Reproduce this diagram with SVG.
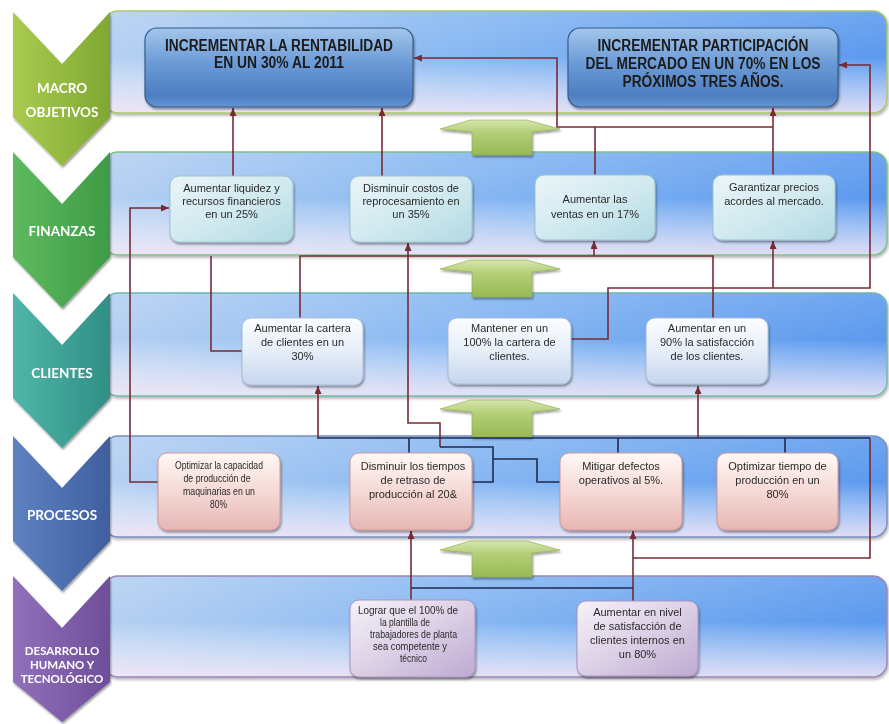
<svg xmlns="http://www.w3.org/2000/svg" width="889" height="724" viewBox="0 0 889 724">
<style>
.lab{font-family:Lato,"Open Sans","Liberation Sans",sans-serif;font-weight:bold;font-size:13.5px;fill:#fff;text-anchor:middle}
.lab2{font-family:Lato,"Open Sans","Liberation Sans",sans-serif;font-weight:bold;font-size:11.5px;fill:#fff;text-anchor:middle}
.mt{font-family:"Liberation Sans",Arial,sans-serif;font-weight:bold;font-size:16px;fill:#1b1b1b;text-anchor:middle}
.t{font-family:"Liberation Sans",Arial,sans-serif;font-size:11px;fill:#2a2a2a;text-anchor:middle}
.tn{font-family:"Liberation Sans",Arial,sans-serif;font-size:11px;fill:#2a2a2a;text-anchor:middle}
.c{fill:none;stroke:#7A2A33;stroke-width:1.6}
.n{fill:none;stroke:#1E2B4F;stroke-width:1.6}
.band{fill:url(#bandH)}
.bandov{fill:url(#bandV)}
.fin{fill:url(#finG);stroke:#9CC4CF;stroke-width:1}
.cli{fill:url(#cliG);stroke:#A8BCD8;stroke-width:1}
.pro{fill:url(#proG);stroke:#D09A98;stroke-width:1}
.des{fill:url(#desG);stroke:#A995C0;stroke-width:1}
.mac{fill:url(#macG);stroke:#385D8A;stroke-width:1.2}
.garr{fill:url(#arrG);stroke:#8CAA4A;stroke-width:0.6}
</style>
<defs>
<linearGradient id="bandH" x1="0" y1="0" x2="1" y2="0">
<stop offset="0" stop-color="#B5D0F2"/><stop offset="0.45" stop-color="#88B8F2"/><stop offset="1" stop-color="#5B99EE"/>
</linearGradient>
<linearGradient id="bandV" x1="0" y1="0" x2="0" y2="1">
<stop offset="0" stop-color="#ffffff" stop-opacity="0.12"/><stop offset="0.45" stop-color="#ffffff" stop-opacity="0"/><stop offset="1" stop-color="#F8E8F5" stop-opacity="0.85"/>
</linearGradient>
<linearGradient id="macG" x1="0" y1="0" x2="0" y2="1">
<stop offset="0" stop-color="#A3C6EC"/><stop offset="0.45" stop-color="#6B9AD6"/><stop offset="0.85" stop-color="#4D7EC2"/><stop offset="1" stop-color="#6394D2"/>
</linearGradient>
<linearGradient id="finG" x1="0" y1="0" x2="1" y2="1">
<stop offset="0" stop-color="#EAF5F8"/><stop offset="0.5" stop-color="#D2EAF0"/><stop offset="1" stop-color="#B2DAE3"/>
</linearGradient>
<linearGradient id="cliG" x1="0" y1="0" x2="0" y2="1">
<stop offset="0" stop-color="#FCFDFF"/><stop offset="0.5" stop-color="#E6EEF8"/><stop offset="1" stop-color="#C6D6EE"/>
</linearGradient>
<linearGradient id="proG" x1="0" y1="0" x2="0" y2="1">
<stop offset="0" stop-color="#FFF8F5"/><stop offset="0.5" stop-color="#F5D9D6"/><stop offset="1" stop-color="#E6B6B3"/>
</linearGradient>
<linearGradient id="desG" x1="0" y1="0" x2="1" y2="1">
<stop offset="0" stop-color="#F6F2F8"/><stop offset="0.5" stop-color="#DCD0E6"/><stop offset="1" stop-color="#BDAAD2"/>
</linearGradient>
<linearGradient id="arrG" x1="0" y1="0" x2="0" y2="1">
<stop offset="0" stop-color="#D5E6AE"/><stop offset="0.35" stop-color="#B4CF78"/><stop offset="1" stop-color="#98B955"/>
</linearGradient>
<linearGradient id="ch1" x1="0" y1="0" x2="1" y2="0"><stop offset="0" stop-color="#A9CB50"/><stop offset="1" stop-color="#7FA832"/></linearGradient>
<linearGradient id="ch2" x1="0" y1="0" x2="1" y2="0"><stop offset="0" stop-color="#5EBA5E"/><stop offset="1" stop-color="#3E9B47"/></linearGradient>
<linearGradient id="ch3" x1="0" y1="0" x2="1" y2="0"><stop offset="0" stop-color="#4FB6A8"/><stop offset="1" stop-color="#2F8F85"/></linearGradient>
<linearGradient id="ch4" x1="0" y1="0" x2="1" y2="0"><stop offset="0" stop-color="#5E82C2"/><stop offset="1" stop-color="#3F5F9E"/></linearGradient>
<linearGradient id="ch5" x1="0" y1="0" x2="1" y2="0"><stop offset="0" stop-color="#9170BB"/><stop offset="1" stop-color="#6E4E9A"/></linearGradient>
<filter id="sh" x="-10%" y="-10%" width="130%" height="140%"><feDropShadow dx="1" dy="2" stdDeviation="1.2" flood-color="#000" flood-opacity="0.4"/></filter>
<filter id="bsh" x="-5%" y="-10%" width="110%" height="130%"><feDropShadow dx="1" dy="2" stdDeviation="1.5" flood-color="#000" flood-opacity="0.3"/></filter>
<marker id="ah" viewBox="0 0 8 7" refX="8" refY="3.5" markerWidth="8" markerHeight="7" markerUnits="userSpaceOnUse" orient="auto"><path d="M0,0 L8,3.5 L0,7 z" fill="#7A2A33"/></marker>
</defs>

<g id="bands">
<g filter="url(#bsh)"><rect class="band" x="104" y="11" width="783" height="102" rx="14"/><rect class="bandov" x="104" y="11" width="783" height="102" rx="14" stroke="#A9C86A" stroke-width="1.5"/></g>
<g filter="url(#bsh)"><rect class="band" x="104" y="152" width="783" height="103" rx="14"/><rect class="bandov" x="104" y="152" width="783" height="103" rx="14" stroke="#7FC08A" stroke-width="1.5"/></g>
<g filter="url(#bsh)"><rect class="band" x="104" y="293" width="783" height="103" rx="14"/><rect class="bandov" x="104" y="293" width="783" height="103" rx="14" stroke="#6FB8AE" stroke-width="1.5"/></g>
<g filter="url(#bsh)"><rect class="band" x="104" y="436" width="783" height="101" rx="14"/><rect class="bandov" x="104" y="436" width="783" height="101" rx="14" stroke="#7890C0" stroke-width="1.5"/></g>
<g filter="url(#bsh)"><rect class="band" x="104" y="576" width="783" height="101" rx="14"/><rect class="bandov" x="104" y="576" width="783" height="101" rx="14" stroke="#9A88B8" stroke-width="1.5"/></g>
</g>

<g id="lane-macro" filter="url(#sh)">
<polygon points="13,12 62,64 110,12 110,117 62,166 13,117" fill="url(#ch1)"/>
<text class="lab" x="62" y="93">MACRO</text>
<text class="lab" x="62" y="117">OBJETIVOS</text>
</g>
<g id="lane-finanzas" filter="url(#sh)">
<polygon points="13,152 62,204 110,152 110,257 62,308 13,257" fill="url(#ch2)"/>
<text class="lab" x="62" y="236">FINANZAS</text>
</g>
<g id="lane-clientes" filter="url(#sh)">
<polygon points="13,293 62,345 110,293 110,398 62,448 13,398" fill="url(#ch3)"/>
<text class="lab" x="62" y="378">CLIENTES</text>
</g>
<g id="lane-procesos" filter="url(#sh)">
<polygon points="13,436 62,488 110,436 110,541 62,591 13,541" fill="url(#ch4)"/>
<text class="lab" x="62" y="520">PROCESOS</text>
</g>
<g id="lane-desarrollo" filter="url(#sh)">
<polygon points="13,576 62,628 110,576 110,682 62,722 13,682" fill="url(#ch5)"/>
<text class="lab2" x="62" y="655">DESARROLLO</text>
<text class="lab2" x="62" y="669">HUMANO Y</text>
<text class="lab2" x="62" y="683">TECNOLÓGICO</text>
</g>

<g id="up-arrows" filter="url(#sh)">
<polygon class="garr" points="440,129 470,120 527,120 560,129 532,132 532,155 472,155 472,132"/>
<polygon class="garr" points="440,269 470,260 527,260 560,269 532,272 532,297 472,297 472,272"/>
<polygon class="garr" points="440,409 470,400 527,400 560,409 532,412 532,437 472,437 472,412"/>
<polygon class="garr" points="440,550 470,541 527,541 560,550 532,553 532,577 472,577 472,553"/>
</g>

<g id="connectors">
<path class="c" d="M233,176 V108" marker-end="url(#ah)"/>
<path class="c" d="M382,176 V108" marker-end="url(#ah)"/>
<path class="c" d="M595,175 V127 H557 V58 H414" marker-end="url(#ah)"/>
<path class="c" d="M595,127 H773"/>
<path class="c" d="M773,175 V108" marker-end="url(#ah)"/>
<path class="c" d="M571,339 H608 V288 H870 V65 H839" marker-end="url(#ah)"/>
<path class="c" d="M773,288 V241" marker-end="url(#ah)"/>
<path class="c" d="M300,318 V256 H713 V318"/>
<path class="c" d="M594,256 V241" marker-end="url(#ah)"/>
<path class="c" d="M242,351 H211 V256"/>
<path class="c" d="M440,447 V423 H408 V243" marker-end="url(#ah)"/>
<path class="n" d="M472,482 H493 V447 H440"/>
<path class="n" d="M560,482 H537 V459 H493"/>
<path class="c" d="M158,482 H130 V208 H169" marker-end="url(#ah)"/>
<path class="c" d="M633,558 H870 V438"/>
<path class="n" d="M870,438 H317"/>
<path class="c" d="M318,438 V386" marker-end="url(#ah)"/>
<path class="c" d="M698,438 V386" marker-end="url(#ah)"/>
<path class="n" d="M409,438 V453 M618,438 V453 M785,438 V453"/>
<path class="c" d="M633,601 V531" marker-end="url(#ah)"/>
<path class="c" d="M411,600 V531" marker-end="url(#ah)"/>
<path class="n" d="M411,588 H633"/>
</g>

<g id="macro-rentabilidad" filter="url(#sh)">
<rect class="mac" x="145" y="28" width="268" height="79" rx="12"/>
<text class="mt" x="279" y="51" textLength="228" lengthAdjust="spacingAndGlyphs">INCREMENTAR LA RENTABILIDAD</text>
<text class="mt" x="279" y="68" textLength="130" lengthAdjust="spacingAndGlyphs">EN UN 30% AL 2011</text>
</g>
<g id="macro-participacion" filter="url(#sh)">
<rect class="mac" x="568" y="28" width="270" height="79" rx="12"/>
<text class="mt" x="703" y="51" textLength="211" lengthAdjust="spacingAndGlyphs">INCREMENTAR PARTICIPACIÓN</text>
<text class="mt" x="703" y="69" textLength="235" lengthAdjust="spacingAndGlyphs">DEL MERCADO EN UN 70% EN LOS</text>
<text class="mt" x="703" y="87" textLength="161" lengthAdjust="spacingAndGlyphs">PRÓXIMOS TRES AÑOS.</text>
</g>

<g id="fin-liquidez" filter="url(#sh)">
<rect class="fin" x="170" y="176" width="123" height="66" rx="9"/>
<text class="t" x="231.5" y="192">Aumentar liquidez y</text>
<text class="t" x="231.5" y="205">recursos financieros</text>
<text class="t" x="231.5" y="218">en un 25%</text>
</g>
<g id="fin-costos" filter="url(#sh)">
<rect class="fin" x="350" y="176" width="122" height="66" rx="9"/>
<text class="t" x="411" y="192">Disminuir costos de</text>
<text class="t" x="411" y="205">reprocesamiento en</text>
<text class="t" x="411" y="218">un 35%</text>
</g>
<g id="fin-ventas" filter="url(#sh)">
<rect class="fin" x="535" y="175" width="120" height="65" rx="9"/>
<text class="t" x="595" y="203">Aumentar las</text>
<text class="t" x="595" y="218">ventas en un 17%</text>
</g>
<g id="fin-precios" filter="url(#sh)">
<rect class="fin" x="713" y="175" width="122" height="65" rx="9"/>
<text class="t" x="774" y="191">Garantizar precios</text>
<text class="t" x="774" y="205">acordes al mercado.</text>
</g>

<g id="cli-cartera" filter="url(#sh)">
<rect class="cli" x="242" y="318" width="121" height="67" rx="9"/>
<text class="t" x="302.5" y="332">Aumentar la cartera</text>
<text class="t" x="302.5" y="346">de clientes en un</text>
<text class="t" x="302.5" y="360">30%</text>
</g>
<g id="cli-mantener" filter="url(#sh)">
<rect class="cli" x="448" y="318" width="123" height="66" rx="9"/>
<text class="t" x="509.5" y="332">Mantener en un</text>
<text class="t" x="509.5" y="346">100% la cartera de</text>
<text class="t" x="509.5" y="360">clientes.</text>
</g>
<g id="cli-satisfaccion" filter="url(#sh)">
<rect class="cli" x="646" y="318" width="122" height="66" rx="9"/>
<text class="t" x="707" y="332">Aumentar en un</text>
<text class="t" x="707" y="346">90% la satisfacción</text>
<text class="t" x="707" y="360">de los clientes.</text>
</g>

<g id="pro-capacidad" filter="url(#sh)">
<rect class="pro" x="158" y="453" width="122" height="77" rx="9"/>
<text class="tn" x="219" y="469" textLength="88" lengthAdjust="spacingAndGlyphs">Optimizar la capacidad</text>
<text class="tn" x="217" y="482" textLength="67" lengthAdjust="spacingAndGlyphs">de producción  de</text>
<text class="tn" x="219" y="495" textLength="72" lengthAdjust="spacingAndGlyphs">maquinarias en un</text>
<text class="tn" x="218.5" y="508" textLength="17" lengthAdjust="spacingAndGlyphs">80%</text>
</g>
<g id="pro-tiempos" filter="url(#sh)">
<rect class="pro" x="350" y="453" width="122" height="77" rx="9"/>
<text class="t" x="413" y="470">Disminuir los tiempos</text>
<text class="t" x="413" y="484">de retraso de</text>
<text class="t" x="413" y="498">producción al 20&amp;</text>
</g>
<g id="pro-defectos" filter="url(#sh)">
<rect class="pro" x="560" y="453" width="122" height="77" rx="9"/>
<text class="t" x="621" y="470">Mitigar defectos</text>
<text class="t" x="621" y="484">operativos al 5%.</text>
</g>
<g id="pro-tiempo-prod" filter="url(#sh)">
<rect class="pro" x="717" y="453" width="121" height="77" rx="9"/>
<text class="t" x="777.5" y="470">Optimizar tiempo de</text>
<text class="t" x="777.5" y="484">producción en un</text>
<text class="t" x="777.5" y="498">80%</text>
</g>

<g id="des-plantilla" filter="url(#sh)">
<rect class="des" x="350" y="600" width="125" height="77" rx="9"/>
<text class="tn" x="408" y="614" textLength="100" lengthAdjust="spacingAndGlyphs">Lograr que el 100% de</text>
<text class="tn" x="405" y="626" textLength="50" lengthAdjust="spacingAndGlyphs">la plantilla de</text>
<text class="tn" x="413.5" y="638" textLength="87" lengthAdjust="spacingAndGlyphs">trabajadores  de planta</text>
<text class="tn" x="410" y="650" textLength="74" lengthAdjust="spacingAndGlyphs">sea competente  y</text>
<text class="tn" x="413.5" y="662" textLength="27" lengthAdjust="spacingAndGlyphs">técnico</text>
</g>
<g id="des-satisfaccion" filter="url(#sh)">
<rect class="des" x="577" y="601" width="121" height="75" rx="9"/>
<text class="t" x="637.5" y="616">Aumentar en nivel</text>
<text class="t" x="637.5" y="630">de satisfacción de</text>
<text class="t" x="637.5" y="644">clientes internos en</text>
<text class="t" x="637.5" y="658">un 80%</text>
</g>
</svg>
